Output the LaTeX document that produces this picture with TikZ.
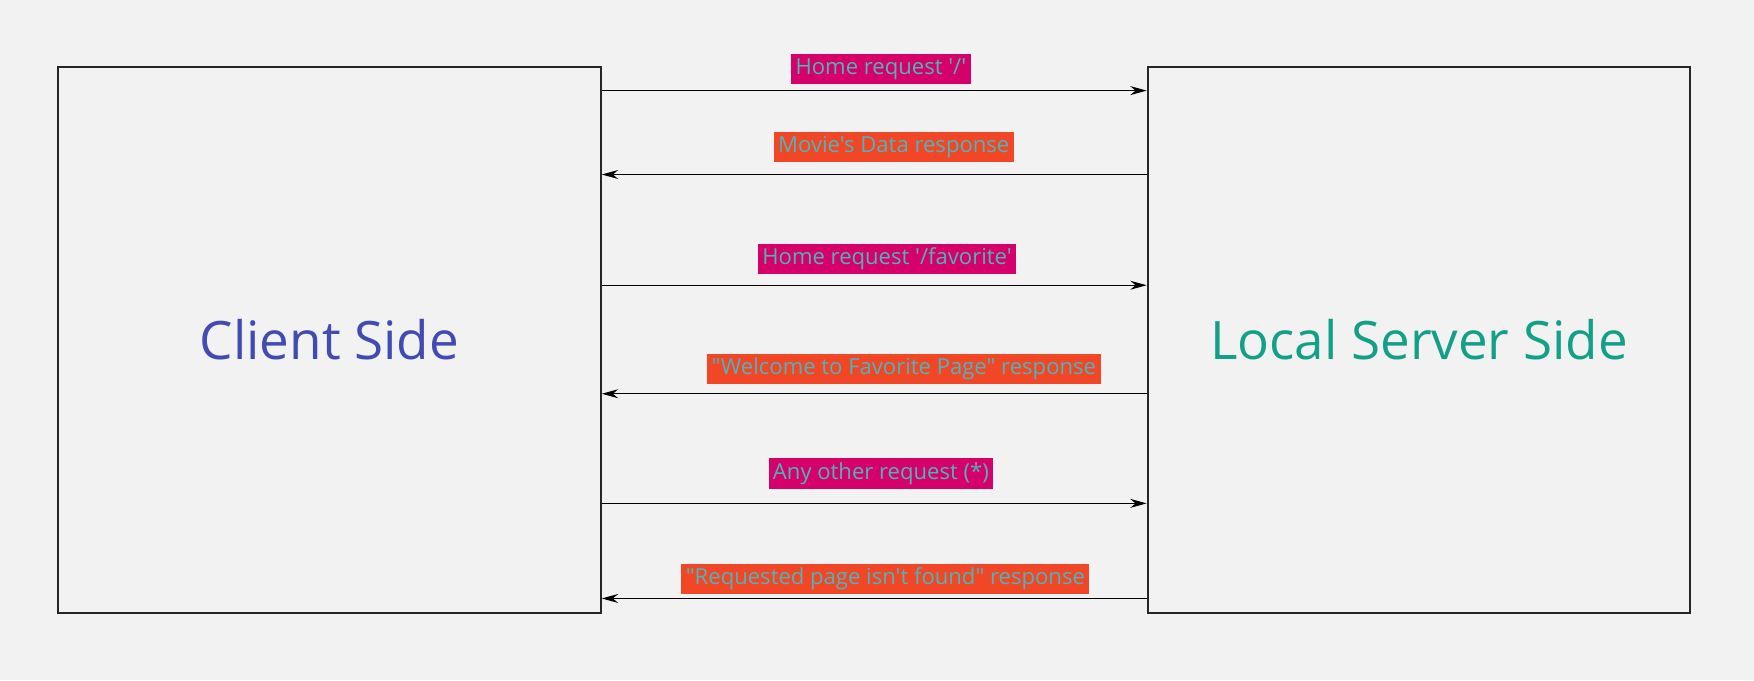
\documentclass[tikz,border=0pt]{standalone}
\usepackage{fontspec}
\setmainfont{Open Sans}[Ligatures=TeXOff]
\usetikzlibrary{arrows.meta,positioning}

\definecolor{bgcol}{HTML}{F2F2F2}
\definecolor{reqcol}{HTML}{D5006A}
\definecolor{respcol}{HTML}{F24726}
\definecolor{txtcol}{HTML}{4FB3BA}
\definecolor{clientcol}{HTML}{414BB2}
\definecolor{servercol}{HTML}{12A088}

\begin{document}
\begin{tikzpicture}[
    x=0.75pt, y=0.75pt,
    side/.style={rectangle, draw=black!85, line width=1.4pt, minimum width=363.75pt, minimum height=366pt, font=\fontsize{35.5}{42}\selectfont},
    request/.style={rectangle, fill=reqcol, text=txtcol, inner xsep=3pt, inner ysep=0pt, minimum height=20.5pt, font=\fontsize{14.8}{17}\selectfont},
    response/.style={request, fill=respcol},
    msg/.style={-{Stealth[length=11pt, width=6pt]}, line width=0.75pt, black}
]
\fill[bgcol] (0,0) rectangle (1568,608);
\useasboundingbox (0,0) rectangle (1568,608);

% Sides
\node[side, text=clientcol] (client) at (294.5,304) {Client Side};
\node[side, text=servercol] (server) at (1268.5,304) {Local Server Side};

% Labels
\node[request] (req1) at (787.5,546.5) {Home request '/'};
\node[response] (resp1) at (799,476.5) {Movie's Data response};
\node[request] (req2) at (793,376.5) {Home request '/favorite'};
\node[response] (resp2) at (808,278) {"Welcome to Favorite Page" response};
\node[request] (req3) at (787.5,184.5) {Any other request (*)};
\node[response] (resp3) at (791.5,90.5) {"Requested page isn't found" response};

% Requests and responses
\draw[msg] (client.east |- 0,527) -- (server.west |- 0,527);
\draw[msg] (server.west |- 0,452) -- (client.east |- 0,452);
\draw[msg] (client.east |- 0,353) -- (server.west |- 0,353);
\draw[msg] (server.west |- 0,256) -- (client.east |- 0,256);
\draw[msg] (client.east |- 0,158) -- (server.west |- 0,158);
\draw[msg] (server.west |- 0,73) -- (client.east |- 0,73);

\end{tikzpicture}
\end{document}
